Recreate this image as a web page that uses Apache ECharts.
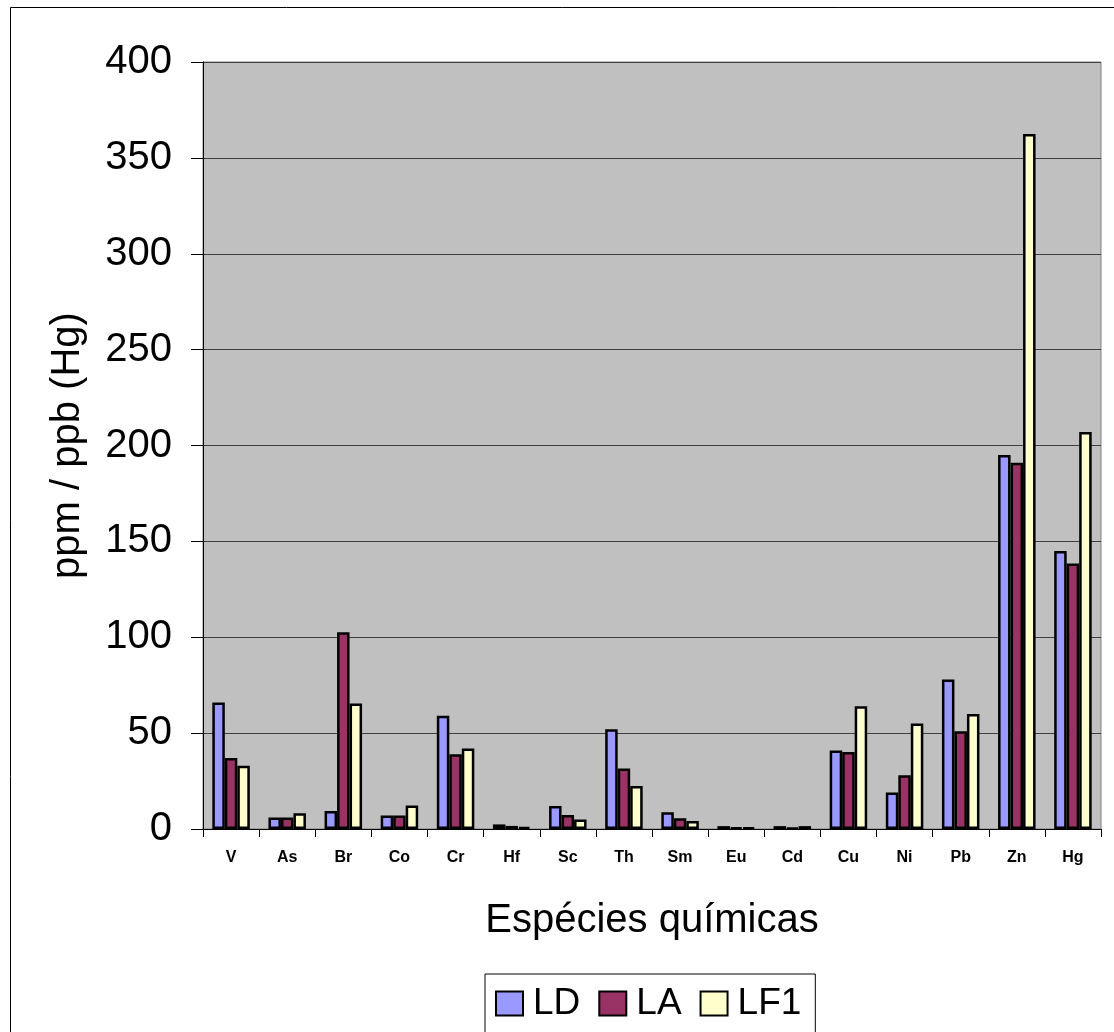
<!DOCTYPE html>
<html>
<head>
<meta charset="utf-8">
<script src="https://cdn.jsdelivr.net/npm/echarts@6/dist/echarts.min.js"></script>
<style>
  html, body { margin: 0; padding: 0; background: #fff; }
  #chart { width: 1114px; height: 1032px; }
</style>
</head>
<body>
<div id="chart"></div>
<script>
// Chemical species measured and their concentrations per sample
const categories = ['V', 'As', 'Br', 'Co', 'Cr', 'Hf', 'Sc', 'Th', 'Sm', 'Eu', 'Cd', 'Cu', 'Ni', 'Pb', 'Zn', 'Hg'];
const seriesNames = ['LD', 'LA', 'LF1'];
const valuesLD  = [66, 6, 9.4, 7, 59, 2.4, 12, 52, 8.7, 1.5, 1.5, 41, 19, 78, 195, 145];
const valuesLA  = [37, 6, 102.6, 7, 39, 1.6, 7.3, 31.6, 5.6, 0.7, 0.6, 40.2, 28, 51, 191, 138.4];
const valuesLF1 = [33, 8.2, 65.4, 12.2, 42, 1, 5, 22.4, 4.2, 0.7, 1.5, 64, 55, 60, 362.5, 207];
const yTicks = { min: 0, max: 400, step: 50 };

const colors = ['#9999FF', '#993366', '#FFFFCC'];
const font = 'Liberation Sans, Arial, sans-serif';

const chart = echarts.init(document.getElementById('chart'), null, { renderer: 'canvas' });

function barSeries(name, data, color) {
  return {
    name: name,
    type: 'bar',
    data: data,
    barWidth: 12.5,
    barGap: '0%',
    itemStyle: { color: color, borderColor: '#000', borderWidth: 2.5 }
  };
}

chart.setOption({
  animation: false,
  backgroundColor: '#ffffff',
  textStyle: { fontFamily: font },
  graphic: [{
    type: 'rect',
    shape: { x: 10.5, y: 7.5, width: 1200, height: 1100 },
    style: { fill: 'none', stroke: '#000', lineWidth: 1 },
    silent: true
  }],
  grid: {
    left: 203, top: 62, right: 13, bottom: 203,
    show: true,
    backgroundColor: '#C0C0C0',
    borderColor: '#808080',
    borderWidth: 1
  },
  legend: {
    data: seriesNames,
    left: 485, top: 974,
    orient: 'horizontal',
    padding: [11, 14, 11, 10],
    borderColor: '#000',
    borderWidth: 1,
    itemWidth: 27,
    itemHeight: 24,
    itemGap: 18,
    icon: 'rect',
    textStyle: { fontSize: 37, color: '#000', fontFamily: font, padding: [0, 0, 0, 5] }
  },
  xAxis: {
    type: 'category',
    data: categories,
    name: 'Espécies químicas',
    nameLocation: 'middle',
    nameGap: 72,
    nameTextStyle: { fontSize: 40, color: '#000', fontFamily: font },
    axisLine: { lineStyle: { color: '#000', width: 1 } },
    axisTick: { show: true, length: 8, lineStyle: { color: '#000' } },
    axisLabel: { fontSize: 16, fontWeight: 'bold', color: '#000', margin: 21, fontFamily: font },
    splitLine: { show: false }
  },
  yAxis: {
    type: 'value',
    min: yTicks.min,
    max: yTicks.max,
    interval: yTicks.step,
    name: 'ppm / ppb (Hg)',
    nameLocation: 'middle',
    nameGap: 115,
    nameTextStyle: { fontSize: 40, color: '#000', fontFamily: font },
    axisLine: { show: true, lineStyle: { color: '#000', width: 1 } },
    axisTick: { show: true, length: 12, lineStyle: { color: '#000' } },
    axisLabel: { fontSize: 40, color: '#000', margin: 31, fontFamily: font },
    splitLine: { show: true, lineStyle: { color: '#404040', width: 1 } }
  },
  series: [
    barSeries(seriesNames[0], valuesLD, colors[0]),
    barSeries(seriesNames[1], valuesLA, colors[1]),
    barSeries(seriesNames[2], valuesLF1, colors[2])
  ]
});
</script>
</body>
</html>
